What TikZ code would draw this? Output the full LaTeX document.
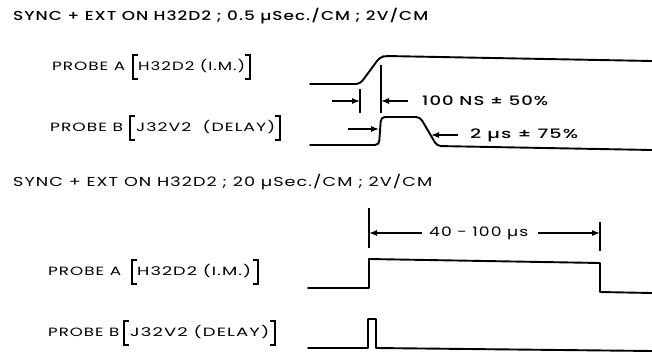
\documentclass[tikz,border=0pt]{standalone}
\usepackage{fontspec}
\usepackage{graphicx}
\setmainfont{Poppins}
\newfontfamily\letfont[LetterSpace=6]{Poppins}
\newfontfamily\letboldfont[LetterSpace=6]{Poppins Medium}
\usetikzlibrary{arrows.meta}
\newcommand\fitto[2]{\resizebox{#1}{\height}{#2}}
\tikzset{
  wave/.style={line width=1.9pt, line join=round, line cap=round},
  tickline/.style={line width=1.1pt},
  dim/.style={line width=1.2pt, -{Latex[length=8pt,width=6pt]}},
  txt/.style={anchor=west, inner sep=0pt, text height=6.5pt, text depth=0pt},
  ttl/.style={txt, font=\letfont\fontsize{13}{13}\selectfont},
  lab/.style={txt, font=\letfont\fontsize{12}{12}\selectfont},
  ann/.style={txt, font=\letboldfont\fontsize{13}{13}\selectfont},
  brk/.style={line width=1.1pt},
}
\begin{document}
\begin{tikzpicture}[x=1pt,y=-1pt]
\useasboundingbox[fill=white] (0,0) rectangle (652,353);

% ---------- titles ----------
\node[ttl, font=\letboldfont\fontsize{13}{13}\selectfont] (t1) at (13,17) {\fitto{415pt}{SYNC + EXT ON H32D2 ; 0.5 µSec./CM ; 2V/CM}};
\node[ttl] (t2) at (13,183) {\fitto{419pt}{SYNC + EXT ON H32D2 ; 20 µSec./CM ; 2V/CM}};

% ---------- probe labels ----------
% top A
\node[lab] (pa1) at (52,67) {\fitto{73pt}{PROBE A}};
\node[lab] (ia1) at (138,67) {\fitto{107pt}{H32D2 (I.M.)}};
\draw[brk] (138,55) -- (133,55) -- (133,79) -- (138,79);
\draw[brk] (245,55) -- (250,55) -- (250,79) -- (245,79);
% top B
\node[lab] (pb1) at (50,128) {\fitto{73pt}{PROBE B}};
\node[lab] (ib1) at (136,128) {\fitto{139pt}{J32V2 \ (DELAY)}};
\draw[brk] (135,116) -- (130,116) -- (130,140) -- (135,140);
\draw[brk] (275,116) -- (280,116) -- (280,140) -- (275,140);
% bottom A
\node[lab] (pa2) at (48,272) {\fitto{73pt}{PROBE A}};
\node[lab] (ia2) at (137,272) {\fitto{114pt}{H32D2 (I.M.)}};
\draw[brk] (137,260) -- (132,260) -- (132,284) -- (137,284);
\draw[brk] (253,260) -- (258,260) -- (258,284) -- (253,284);
% bottom B
\node[lab] (pb2) at (48,333) {\fitto{71pt}{PROBE B}};
\node[lab] (ib2) at (130,333) {\fitto{139pt}{J32V2 (DELAY)}};
\draw[brk] (129,321) -- (124,321) -- (124,345) -- (129,345);
\draw[brk] (270,321) -- (275,321) -- (275,345) -- (270,345);

% ---------- top waveforms ----------
\draw[wave, rounded corners=4pt] (310,84) -- (360,84) -- (380,57) -- (386,56) -- (652,61);
\draw[wave, rounded corners=4pt] (310,145) -- (379,145) -- (381,117) -- (420,117) -- (437,146) -- (652,150);

% ticks and dimension arrows (top)
\coordinate (k1a) at (360,89);  \coordinate (k1b) at (360,113);
\coordinate (k2a) at (381,65);  \coordinate (k2b) at (381,113);
\draw[tickline] (k1a) -- (k1b);
\draw[tickline] (k2a) -- (k2b);
\coordinate (d1s) at (332,101); \coordinate (d1e) at (360,101);
\coordinate (d2s) at (408,101); \coordinate (d2e) at (381,101);
\draw[dim] (d1s) -- (d1e);
\draw[dim] (d2s) -- (d2e);
\node[ann] (n100) at (422,102) {\fitto{126pt}{100 NS ± 50\%}};

\coordinate (d3s) at (348,129); \coordinate (d3e) at (379,129);
\coordinate (d4s) at (458,135); \coordinate (d4e) at (431,135);
\draw[dim] (d3s) -- (d3e);
\draw[dim] (d4s) -- (d4e);
\node[ann] (n2us) at (470,135) {\fitto{108pt}{2 µs ± 75\%}};

% ---------- bottom waveforms ----------
\draw[wave] (308,288) -- (369,288) -- (369,259) -- (600,263) -- (600,292) -- (652,293);
\draw[wave] (308,348) -- (368,348) -- (368,319) -- (376,319) -- (376,348) -- (652,351);

\coordinate (k3a) at (369,208); \coordinate (k3b) at (369,248);
\coordinate (k4a) at (600,222); \coordinate (k4b) at (600,251);
\draw[tickline] (k3a) -- (k3b);
\draw[tickline] (k4a) -- (k4b);
\coordinate (d5s) at (422,233); \coordinate (d5e) at (369,233);
\coordinate (d6s) at (538,233); \coordinate (d6e) at (600,233);
\draw[dim] (d5s) -- (d5e);
\draw[dim] (d6s) -- (d6e);
\node[txt, font=\letfont\fontsize{13}{13}\selectfont] (n40) at (429,233) {\fitto{99pt}{40 - 100 µs}};
\end{tikzpicture}
\end{document}
